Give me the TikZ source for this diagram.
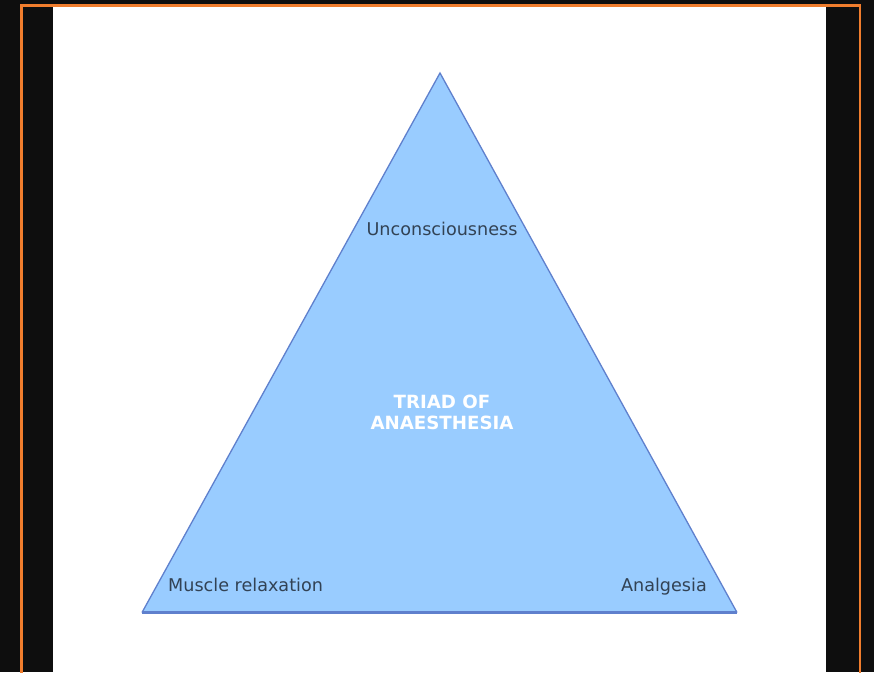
\documentclass[tikz,border=0pt]{standalone}
\usepackage{fontspec}
\setmainfont{DejaVu Sans}
\definecolor{bgblack}{RGB}{14,14,14}
\definecolor{frameorange}{RGB}{240,125,45}
\definecolor{trifill}{RGB}{153,204,255}
\definecolor{triedge}{RGB}{95,128,205}
\definecolor{labeltext}{RGB}{50,66,84}
\begin{document}
\begin{tikzpicture}[x=1pt,y=-1pt,
  cornerlabel/.style={font=\fontsize{17.6}{20}\selectfont, text=labeltext, inner sep=0pt},
  titlelabel/.style={font=\fontsize{18.2}{21}\selectfont\bfseries, text=white, align=center, inner sep=0pt}]
\useasboundingbox (0,0) rectangle (874,672);
\fill[bgblack] (0,0) rectangle (874,672);
\draw[frameorange, line width=2.7pt] (21.3,690) -- (21.3,5.7) -- (860,5.7) -- (860,690);
\fill[white] (53,7) rectangle (826,672);
\coordinate (apex) at (440,73);
\coordinate (bl) at (142,612.5);
\coordinate (br) at (737,612.5);
\fill[trifill] (apex) -- (br) -- (bl) -- cycle;
\draw[triedge, line width=1.3pt, line join=miter] (bl) -- (apex) -- (br);
\draw[triedge, line width=2.4pt] (bl) -- (br);
\node[cornerlabel, anchor=base] (unc) at (442,235) {Unconsciousness};
\node[cornerlabel, anchor=base west] (mus) at (168,591) {Muscle relaxation};
\node[cornerlabel, anchor=base east] (ana) at (707,591) {Analgesia};
\node[titlelabel, anchor=base] (triad) at (442,429) {TRIAD OF\\ANAESTHESIA};
\end{tikzpicture}
\end{document}
